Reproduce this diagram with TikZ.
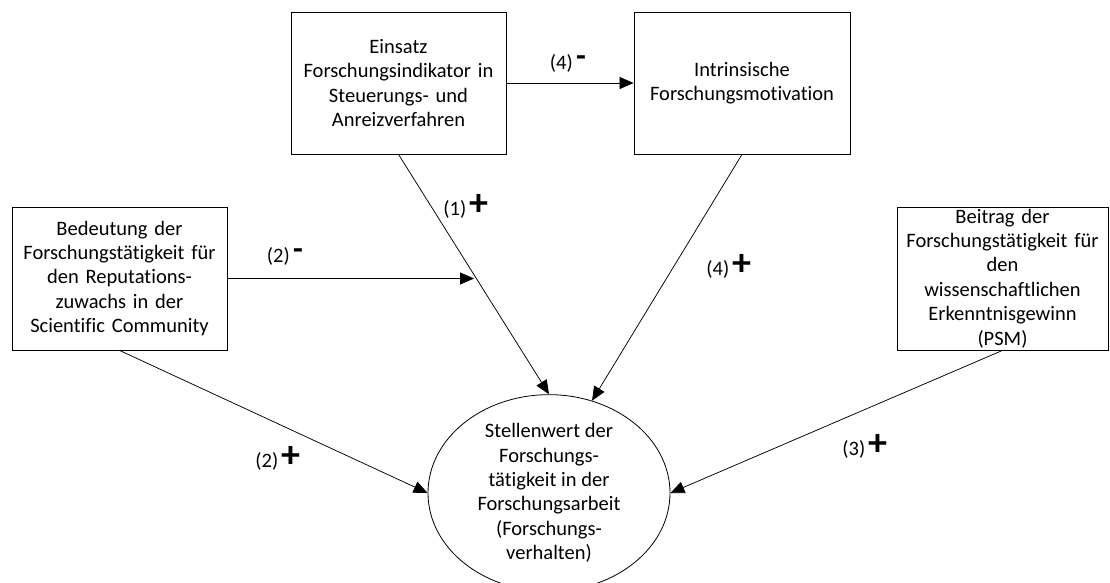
\documentclass[tikz,border=0pt]{standalone}
\usepackage{fontspec}
\setmainfont{Carlito}[Ligatures=NoCommon]
\usetikzlibrary{arrows.meta,shapes.geometric,calc}
\begin{document}
\begin{tikzpicture}[x=1pt,y=-1pt,
  txt/.style={font={\fontsize{20.5}{24.4}\selectfont\spaceskip=0.23em\relax},align=center},
  box/.style={txt,draw,line width=0.8pt,inner sep=0pt,minimum width=#1,text width=#1-4pt},
  lbl/.style={font={\fontsize{20.5}{22}\selectfont},inner sep=0pt},
  arr/.style={line width=0.75pt,-{Triangle[length=14pt,width=12pt]}}]
\newcommand{\pl}{\,{\fontsize{38}{38}\selectfont\bfseries +}}
\newcommand{\mi}{\,\raisebox{3pt}{\fontsize{32}{32}\selectfont\bfseries -}}
\useasboundingbox (0,0) rectangle (1110,583);
\node[box=215pt,minimum height=142pt] (A) at (398.5,83) {Einsatz\\Forschungsindikator in\\Steuerungs- und\\Anreizverfahren};
\node[box=216pt,minimum height=142pt] (B) at (742,83) {Intrinsische\\Forschungsmotivation};
\node[box=215pt,minimum height=143pt] (C) at (119.5,278.5) {Bedeutung der\\Forschungstätigkeit für\\den Reputations-\\zuwachs in der\\Scientific Community};
\node[box=211pt,minimum height=143pt] (D) at (1002.5,278.5) {Beitrag der\\Forschungstätigkeit für\\den\\wissenschaftlichen\\Erkenntnisgewinn\\(PSM)};
\node[txt,draw,line width=0.8pt,ellipse,inner sep=0pt,minimum width=242pt,minimum height=180pt] (E) at (549,493) {Stellenwert der\\Forschungs-\\tätigkeit in der\\Forschungsarbeit\\(Forschungs-\\verhalten)};
\coordinate (P) at ($(A.south)!0.502!(E.north)$);
\draw[arr] (A.east) -- (B.west);
\draw[arr] (A.south) -- (E.north);
\draw[arr] (B.south) -- (E.65);
\draw[arr] (C.east) -- (C.east -| P);
\draw[arr] (C.south) -- (E.west);
\draw[arr] (D.south) -- (E.east);
\node[lbl] (l4a) at (568,63) {(4)\mi};
\node[lbl] (l1) at (466,206) {(1)\pl};
\node[lbl] (l2a) at (285,256) {(2)\mi};
\node[lbl] (l4b) at (729,266) {(4)\pl};
\node[lbl] (l2b) at (278,458) {(2)\pl};
\node[lbl] (l3) at (865,446) {(3)\pl};
\end{tikzpicture}
\end{document}
